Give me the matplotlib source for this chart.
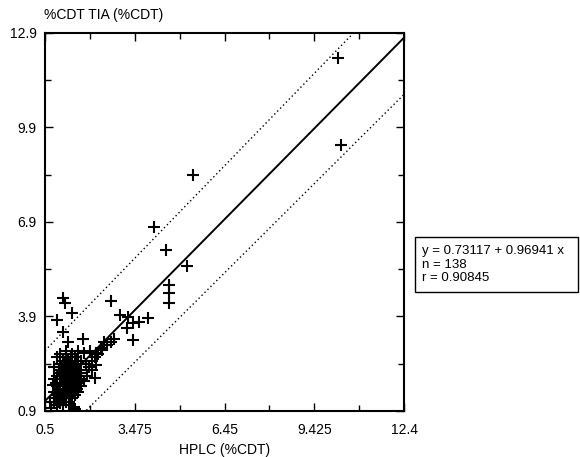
import matplotlib
matplotlib.use("Agg")
import matplotlib.pyplot as plt
import numpy as np
from matplotlib.patches import Rectangle
from matplotlib.ticker import FixedLocator

plt.rcParams['font.family'] = ['Liberation Sans', 'DejaVu Sans']

# regression reported on the chart
intercept = 0.73117
slope = 0.96941
n_obs = 138
r_val = 0.90845

# dotted band: half-width read at the two ends of the x range
band_x = [0.5, 12.4]
band_half = [1.6, 1.8]

x_ticks = [0.5, 3.475, 6.45, 9.425, 12.4]
y_ticks = [0.9, 3.9, 6.9, 9.9, 12.9]

# scattered points
hplc_out = [10.2, 10.3, 5.4, 4.1, 4.5, 5.2, 4.6, 4.6, 4.6,
            2.7, 1.1, 1.15, 1.4, 0.9, 1.1, 1.25, 1.75,
            3.0, 3.25, 3.22, 3.4, 3.6, 3.9, 3.4, 2.8, 2.7, 2.4, 2.2, 2.0, 1.8,
            0.75, 1.45, 1.0, 2.15, 1.5]
tia_out = [12.1, 9.35, 8.4, 6.75, 6.0, 5.5, 4.9, 4.65, 4.33,
           4.4, 4.5, 4.33, 4.0, 3.8, 3.4, 3.1, 3.2,
           3.95, 3.88, 3.53, 3.7, 3.73, 3.85, 3.15, 3.2, 3.1, 2.85, 2.75, 2.8, 2.75,
           1.73, 1.03, 1.15, 1.95, 0.95]

# dense cluster near the origin, column by column
cluster = {
    0.8: [1.2, 1.5, 1.9, 2.3],
    0.85: [1.3, 1.8],
    0.9: [1.1, 1.4, 1.7, 2.0, 2.6],
    0.95: [1.2, 1.5, 2.2],
    1.0: [1.2, 1.3, 1.6, 1.8, 2.1, 2.4, 2.7],
    1.05: [1.4, 1.9, 2.3],
    1.1: [1.1, 1.4, 1.5, 1.7, 1.9, 2.2, 2.5],
    1.15: [1.3, 1.6, 2.0, 2.4],
    1.2: [1.2, 1.3, 1.6, 1.8, 2.0, 2.3, 2.6, 2.8],
    1.25: [1.5, 1.7, 2.1, 2.5],
    1.3: [1.1, 1.4, 1.5, 1.7, 1.9, 2.1, 2.4],
    1.35: [1.3, 1.6, 1.8, 2.2, 2.6],
    1.4: [1.3, 1.6, 1.8, 2.0, 2.2, 2.5, 2.7],
    1.45: [1.5, 1.9, 2.3],
    1.5: [1.4, 1.7, 1.9, 2.1, 2.3, 2.6],
    1.55: [1.6, 2.0, 2.5],
    1.6: [1.5, 1.8, 2.0, 2.4, 2.8],
    1.65: [1.7, 2.1],
    1.7: [1.7, 1.9, 2.2, 2.5],
}
hplc_tail = [1.85, 1.95, 2.05, 2.15, 2.25, 2.35, 2.45, 2.55, 0.65, 0.7,
             1.9, 2.05, 2.2, 1.8]
tia_tail = [2.4, 2.3, 2.5, 2.6, 2.7, 2.9, 3.1, 3.0, 1.2, 1.0,
            2.0, 2.2, 2.35, 1.85]

hplc = list(hplc_out) + list(hplc_tail)
tia = list(tia_out) + list(tia_tail)
for xv, ys in cluster.items():
    for yv in ys:
        hplc.append(xv)
        tia.append(yv)
hplc = hplc[:n_obs]
tia = tia[:n_obs]

fig = plt.figure(figsize=(5.8, 4.57), dpi=100)
ax = fig.add_axes([0.0776, 0.1007, 0.619, 0.8271])

xs = np.array(band_x)
fit = intercept + slope * xs
ax.plot(xs, fit, color='black', linewidth=1.4, zorder=3)
ax.plot(xs, fit + np.array(band_half), color='black', linewidth=1.0,
        linestyle=(0, (1, 2)), zorder=2)
ax.plot(xs, fit - np.array(band_half), color='black', linewidth=1.0,
        linestyle=(0, (1, 2)), zorder=2)

ax.plot(hplc, tia, linestyle='none', marker='+', markersize=8,
        markeredgewidth=1.5, color='black', zorder=4)

ax.set_xlim(x_ticks[0], x_ticks[-1])
ax.set_ylim(y_ticks[0], y_ticks[-1])
ax.set_xticks(x_ticks)
ax.set_xticklabels(['0.5', '3.475', '6.45', '9.425', '12.4'])
ax.set_yticks(y_ticks)
ax.set_yticklabels(['0.9', '3.9', '6.9', '9.9', '12.9'])
ax.xaxis.set_minor_locator(FixedLocator([(a + b) / 2 for a, b in zip(x_ticks[:-1], x_ticks[1:])]))
ax.yaxis.set_minor_locator(FixedLocator([(a + b) / 2 for a, b in zip(y_ticks[:-1], y_ticks[1:])]))
ax.tick_params(which='both', direction='in', top=True, right=True,
               labelsize=10, width=1.0)
ax.tick_params(axis='x', pad=9)
ax.tick_params(axis='y', pad=6)
ax.tick_params(which='major', length=6)
ax.tick_params(which='minor', length=4)
for sp in ax.spines.values():
    sp.set_linewidth(1.5)

ax.set_xlabel('HPLC (%CDT)', fontsize=10, labelpad=4)
fig.text(0.076, 0.952, '%CDT TIA (%CDT)', fontsize=10, ha='left', va='bottom')

# stats box to the right
box = Rectangle((0.716, 0.36), 0.28, 0.122, transform=fig.transFigure,
                facecolor='white', edgecolor='black', linewidth=1.0)
fig.patches.append(box)
stats = (f"y = {intercept} + {slope} x\n"
         f"n = {n_obs}\n"
         f"r = {r_val}")
fig.text(0.728, 0.421, stats, fontsize=9.5, ha='left', va='center', linespacing=1.2)

fig.savefig('out.png', dpi=100)
